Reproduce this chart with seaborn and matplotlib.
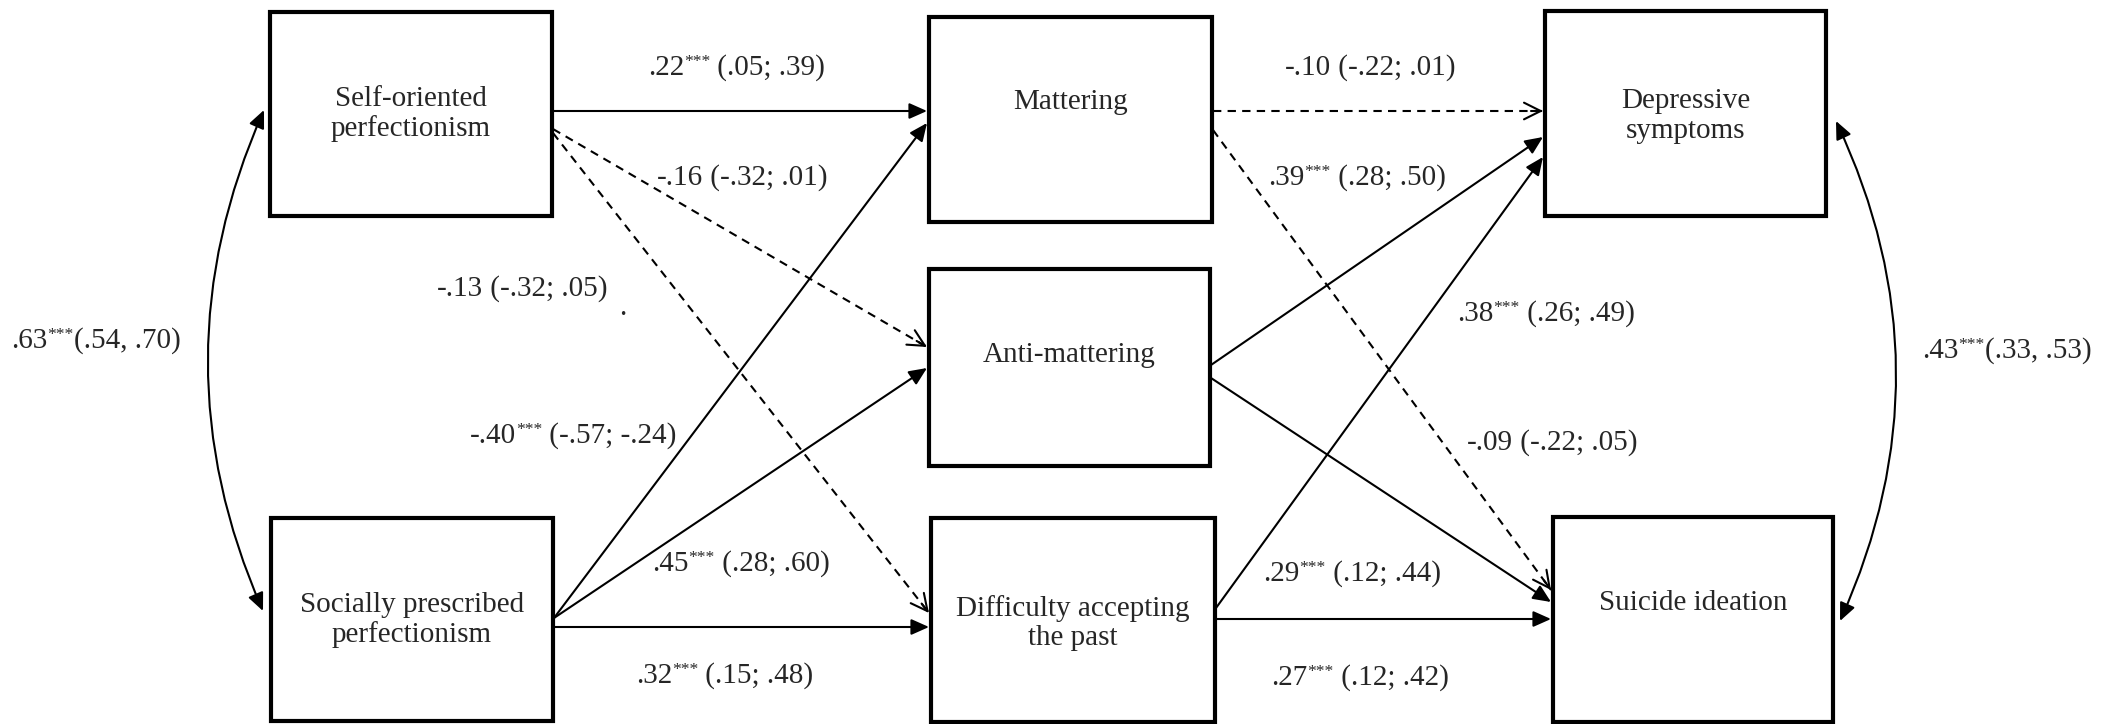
# %%
import numpy as np
import pandas as pd
import matplotlib
matplotlib.use('Agg')
import matplotlib.pyplot as plt
import seaborn as sns
from matplotlib.patches import Rectangle, FancyArrowPatch

# %%
# Path model: nodes, direct paths (estimate, 95% CI, significance) and covariances
node_ids = ['SOP', 'SPP', 'MAT', 'ANTI', 'DAP', 'DEP', 'SI']
node_labels = ['Self-oriented\nperfectionism', 'Socially prescribed\nperfectionism', 'Mattering',
               'Anti-mattering', 'Difficulty accepting\nthe past', 'Depressive\nsymptoms', 'Suicide ideation']

path_from = ['SOP', 'SOP', 'SOP', 'SPP', 'SPP', 'SPP', 'MAT', 'MAT', 'ANTI', 'DAP', 'ANTI', 'DAP']
path_to = ['MAT', 'ANTI', 'DAP', 'MAT', 'ANTI', 'DAP', 'DEP', 'SI', 'DEP', 'DEP', 'SI', 'SI']
path_est = [.22, -.16, -.13, -.40, .45, .32, -.10, -.09, .39, .38, .29, .27]
path_lo = [.05, -.32, -.32, -.57, .28, .15, -.22, -.22, .28, .26, .12, .12]
path_hi = [.39, .01, .05, -.24, .60, .48, .01, .05, .50, .49, .44, .42]
path_stars = ['***', '', '', '***', '***', '***', '', '', '***', '***', '***', '***']

cov_a = ['SOP', 'DEP']
cov_b = ['SPP', 'SI']
cov_est = [.63, .43]
cov_lo = [.54, .33]
cov_hi = [.70, .53]
cov_stars = ['***', '***']

# %%
# Layout (pixel space of the 2105 x 724 figure)
boxes = {  # x0, y0, x1, y1, y of label centre
    'SOP': (270, 12, 552, 216, 114),
    'SPP': (271, 518, 553, 721, 620),
    'MAT': (929, 17, 1212, 222, 102),
    'ANTI': (929, 269, 1210, 466, 355),
    'DAP': (931, 518, 1215, 722, 623),
    'DEP': (1545, 11, 1826, 216, 116),
    'SI': (1553, 517, 1833, 722, 603),
}
# y where each path leaves its source / reaches its target
path_y = [(111, 111), (129, 347), (133, 613), (618, 123), (618, 368), (627, 627),
          (111, 111), (130, 590), (365, 137), (608, 157), (378, 602), (619, 619)]
# left edge and vertical centre of each label
path_text_xy = [(648, 67), (657, 177), (437, 288), (470, 435), (652, 563), (636, 675),
                (1285, 67), (1467, 442), (1268, 177), (1457, 313), (1263, 573), (1271, 677)]
cov_ends = [((264, 110), (263, 611), 0.22), ((1836, 121), (1840, 621), -0.23)]
cov_text_xy = [(11, 340), (1922, 350)]


def fmt(v):
    return f'{v:.2f}'.replace('0.', '.', 1)


# %%
sns.set_theme(style='white')
plt.rcParams['font.family'] = ['Liberation Serif', 'DejaVu Serif']

fig = plt.figure(figsize=(21.05, 7.24), dpi=100)
ax = fig.add_axes([0, 0, 1, 1])
ax.set_xlim(0, 2105)
ax.set_ylim(724, 0)
ax.axis('off')
renderer = fig.canvas.get_renderer()

fs = 21
lw = 1.5
dash = (0, (4, 3))


def put_label(x, yc, est, stars, rest):
    # number, raised stars, then CI, laid out left to right on one baseline
    base = yc + 8
    for txt, size, rise in [(est, fs, 0), (stars, fs * 0.6, 9), (rest, fs, 0)]:
        if not txt:
            continue
        t = ax.text(x, base - rise, txt, ha='left', va='baseline', fontsize=size)
        x += t.get_window_extent(renderer=renderer).width


for nid, lab in zip(node_ids, node_labels):
    x0, y0, x1, y1, ty = boxes[nid]
    ax.add_patch(Rectangle((x0, y0), x1 - x0, y1 - y0, fill=False, ec='black', lw=3, zorder=3))
    ax.text((x0 + x1) / 2, ty, lab, ha='center', va='center', fontsize=fs, linespacing=1.15, zorder=4)

for i in range(len(path_from)):
    sx = boxes[path_from[i]][2] + 1
    ex = boxes[path_to[i]][0] - 2
    sy, ey = path_y[i]
    if path_stars[i]:
        ax.annotate('', xy=(ex, ey), xytext=(sx, sy),
                    arrowprops=dict(arrowstyle='-|>,head_length=0.45,head_width=0.2', color='black',
                                    lw=lw, mutation_scale=24, shrinkA=0, shrinkB=0))
    else:
        ax.plot([sx, ex], [sy, ey], color='black', lw=lw, linestyle=dash)
        d = np.array([ex - sx, ey - sy], dtype=float)
        d /= np.hypot(*d)
        ax.annotate('', xy=(ex, ey), xytext=(ex - 12 * d[0], ey - 12 * d[1]),
                    arrowprops=dict(arrowstyle='->,head_length=0.6,head_width=0.3', color='black',
                                    lw=lw, mutation_scale=20, shrinkA=0, shrinkB=0))
    tx, ty = path_text_xy[i]
    put_label(tx, ty, fmt(path_est[i]), path_stars[i], f' ({fmt(path_lo[i])}; {fmt(path_hi[i])})')

for i in range(len(cov_a)):
    pa, pb, rad = cov_ends[i]
    ax.add_patch(FancyArrowPatch(pa, pb, connectionstyle=f'arc3,rad={rad}',
                                 arrowstyle='<|-|>,head_length=0.45,head_width=0.2',
                                 mutation_scale=24, lw=lw, color='black', shrinkA=0, shrinkB=0))
    tx, ty = cov_text_xy[i]
    put_label(tx, ty, fmt(cov_est[i]), cov_stars[i], f'({fmt(cov_lo[i])}, {fmt(cov_hi[i])})')

# stray full stop in the original figure
ax.text(623, 308, '.', ha='center', va='center', fontsize=fs)

fig.savefig('out.png', dpi=100, facecolor='white')
